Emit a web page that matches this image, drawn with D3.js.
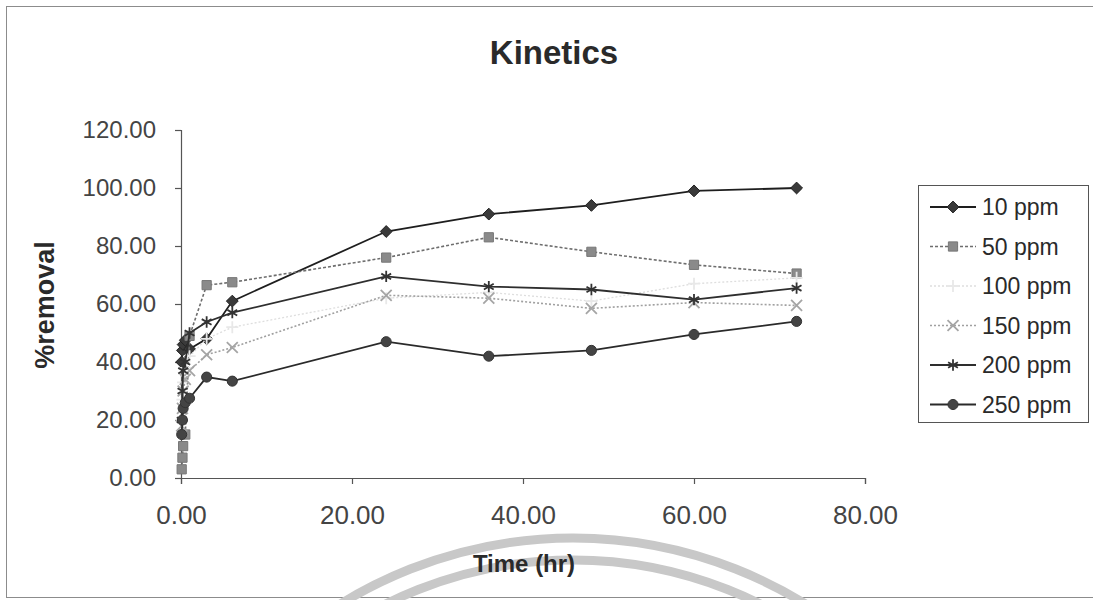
<!DOCTYPE html>
<html>
<head>
<meta charset="utf-8">
<script src="https://cdn.jsdelivr.net/npm/d3@7/dist/d3.min.js"></script>
<style>
  html, body { margin: 0; padding: 0; background: #fff; }
  svg { display: block; font-family: "Liberation Sans", Arial, sans-serif; }
</style>
</head>
<body>
<svg id="chart" width="1093" height="600"></svg>
<script>
// Sampling times (hr)
const times = [0.08, 0.17, 0.25, 0.5, 1, 3, 6, 24, 36, 48, 60, 72];

// % removal for each initial concentration
const ppm10  = [40, 44, 46, 47.5, 44.5, 48, 61, 85, 91, 94, 99, 100];
const ppm50  = [3, 7, 11, 15, 49, 66.5, 67.5, 76, 83, 78, 73.5, 70.5];
const ppm100 = [20, 27, 33, 38, 42, 48, 52, 62, 64, 61, 67, 69];
const ppm150 = [18, 24, 30, 34, 37, 42.5, 45, 63, 62, 58.5, 60.5, 59.5];
const ppm200 = [20, 30, 37, 40, 50, 53.8, 57, 69.5, 66, 65, 61.5, 65.5];
const ppm250 = [15, 20, 24, 26, 27.5, 34.8, 33.4, 47, 42, 44, 49.5, 54];

const seriesNames = ["10 ppm", "50 ppm", "100 ppm", "150 ppm", "200 ppm", "250 ppm"];
const seriesValues = [ppm10, ppm50, ppm100, ppm150, ppm200, ppm250];

const xTicks = [0, 20, 40, 60, 80];
const yTicks = [0, 20, 40, 60, 80, 100, 120];

// Square turned on its corner, for the 10 ppm markers
const symbolRhomb = {
  draw(context, size) {
    const r = Math.sqrt(size / 2);
    context.moveTo(0, -r);
    context.lineTo(r, 0);
    context.lineTo(0, r);
    context.lineTo(-r, 0);
    context.closePath();
  }
};

// Drawing style per series
const styles = [
  { stroke: "#1e1e1e", dash: null,  width: 1.8, symbol: symbolRhomb,        size: 70, fill: "#3a3a3a", mstroke: "#222" },
  { stroke: "#6e6e6e", dash: "3,2", width: 1.6, symbol: d3.symbolSquare,   size: 85, fill: "#8a8a8a", mstroke: "#777" },
  { stroke: "#dedede", dash: "2,2", width: 1.3, symbol: d3.symbolPlus,     size: 50, fill: "none",    mstroke: "#e8e8e8" },
  { stroke: "#a0a0a0", dash: "2,2", width: 1.6, symbol: d3.symbolTimes,    size: 80, fill: "none",    mstroke: "#a5a5a5" },
  { stroke: "#2e2e2e", dash: null,  width: 1.8, symbol: d3.symbolAsterisk, size: 90, fill: "none",    mstroke: "#333" },
  { stroke: "#2a2a2a", dash: null,  width: 1.8, symbol: d3.symbolCircle,   size: 80, fill: "#444",    mstroke: "#333" }
];

const svg = d3.select("#chart");

// Chart frame
svg.append("rect")
  .attr("x", 6.5).attr("y", 6.5)
  .attr("width", 1100).attr("height", 591)
  .attr("fill", "#fff").attr("stroke", "#8c8c8c").attr("stroke-width", 1);

// Faint emblem arcs at the foot of the sheet
const arcG = svg.append("g");
[442, 420].forEach(r => {
  arcG.append("circle")
    .attr("cx", 573).attr("cy", 980).attr("r", r)
    .attr("fill", "none").attr("stroke", "#c8c8c8").attr("stroke-width", 9);
});

const plot = { left: 181, right: 865, top: 130, bottom: 478 };

const x = d3.scaleLinear().domain([0, 80]).range([plot.left, plot.right]);
const y = d3.scaleLinear().domain([0, 120]).range([plot.bottom, plot.top]);

// Title
svg.append("text")
  .attr("x", 554).attr("y", 64)
  .attr("text-anchor", "middle")
  .attr("font-size", 33).attr("font-weight", "bold").attr("fill", "#2a2a2a")
  .text("Kinetics");

// Axes
const yAxis = d3.axisLeft(y).tickValues(yTicks).tickFormat(d3.format(".2f")).tickSize(6).tickPadding(19);
const xAxis = d3.axisBottom(x).tickValues(xTicks).tickFormat(d3.format(".2f")).tickSize(6).tickPadding(22);

const gy = svg.append("g").attr("transform", `translate(${plot.left},0)`).call(yAxis);
const gx = svg.append("g").attr("transform", `translate(0,${plot.bottom})`).call(xAxis);

[gx, gy].forEach(g => {
  g.select(".domain").attr("stroke", "#555").attr("stroke-width", 1.2);
  g.selectAll(".tick line").attr("stroke", "#555").attr("stroke-width", 1.2);
  g.selectAll(".tick text").attr("fill", "#444").attr("font-family", "Liberation Sans, Arial, sans-serif");
});
gy.selectAll(".tick text").attr("font-size", 24);
gx.selectAll(".tick text").attr("font-size", 26);

// Axis titles
svg.append("text")
  .attr("transform", "translate(54,305) rotate(-90)")
  .attr("text-anchor", "middle")
  .attr("font-size", 27).attr("font-weight", "bold").attr("fill", "#2a2a2a")
  .text("%removal");

svg.append("text")
  .attr("x", 524).attr("y", 572)
  .attr("text-anchor", "middle")
  .attr("font-size", 24).attr("font-weight", "bold").attr("fill", "#2a2a2a")
  .text("Time (hr)");

// Series lines and markers
const line = d3.line().x(d => x(d[0])).y(d => y(d[1]));

seriesValues.forEach((vals, i) => {
  const st = styles[i];
  const pts = times.map((t, j) => [t, vals[j]]);
  const g = svg.append("g");
  g.append("path")
    .datum(pts)
    .attr("d", line)
    .attr("fill", "none")
    .attr("stroke", st.stroke)
    .attr("stroke-width", st.width)
    .attr("stroke-dasharray", st.dash);
  const sym = d3.symbol().type(st.symbol).size(st.size);
  g.selectAll("path.m")
    .data(pts)
    .join("path")
    .attr("class", "m")
    .attr("transform", d => `translate(${x(d[0])},${y(d[1])})`)
    .attr("d", sym)
    .attr("fill", st.fill)
    .attr("stroke", st.mstroke)
    .attr("stroke-width", st.fill === "none" ? 1.8 : 1);
});

// Legend
const legend = svg.append("g");
legend.append("rect")
  .attr("x", 918.5).attr("y", 185.5)
  .attr("width", 170).attr("height", 237)
  .attr("fill", "#fff").attr("stroke", "#555").attr("stroke-width", 1);

seriesNames.forEach((name, i) => {
  const st = styles[i];
  const ly = 207 + i * 39.5;
  legend.append("line")
    .attr("x1", 930).attr("x2", 976).attr("y1", ly).attr("y2", ly)
    .attr("stroke", st.stroke).attr("stroke-width", st.width)
    .attr("stroke-dasharray", st.dash);
  legend.append("path")
    .attr("transform", `translate(953,${ly})`)
    .attr("d", d3.symbol().type(st.symbol).size(st.size)())
    .attr("fill", st.fill)
    .attr("stroke", st.mstroke)
    .attr("stroke-width", st.fill === "none" ? 1.8 : 1);
  legend.append("text")
    .attr("x", 982).attr("y", ly + 8)
    .attr("font-size", 23).attr("fill", "#2a2a2a")
    .text(name);
});
</script>
</body>
</html>
